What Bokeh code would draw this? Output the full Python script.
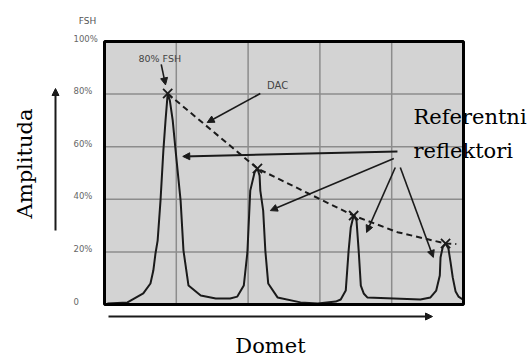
import math
from bokeh.plotting import figure
from bokeh.models import Range1d, Label, Arrow, NormalHead
from bokeh.embed import file_html
from bokeh.resources import INLINE

# ---- data ----
# echo trace: range (divisions 0..5) vs amplitude (% FSH)
trace_x = [0.04, 0.32, 0.54, 0.64, 0.68, 0.71, 0.74, 0.78, 0.82, 0.85, 0.88,
           0.91, 0.95, 0.99, 1.06, 1.10, 1.17, 1.34, 1.55, 1.75, 1.85, 1.94,
           1.99, 2.03, 2.09, 2.13, 2.16, 2.17, 2.21, 2.24, 2.28, 2.41, 2.73,
           2.97, 3.22, 3.29, 3.36, 3.38, 3.40, 3.43, 3.47, 3.51, 3.52, 3.54,
           3.57, 3.61, 3.66, 4.03, 4.40, 4.54, 4.62, 4.67, 4.68, 4.71, 4.75,
           4.79, 4.82, 4.85, 4.89, 4.93, 4.99]
trace_y = [0.4, 0.8, 4.2, 8.0, 12.9, 19.4, 24.3, 39.5, 58.6, 70.0, 80.2,
           77.6, 70.0, 58.6, 39.5, 20.5, 7.2, 3.4, 2.3, 2.3, 3.0, 7.2,
           19.8, 43.3, 50.2, 51.7, 49.0, 43.3, 35.7, 20.5, 8.0, 2.7, 0.8,
           0.4, 1.1, 1.9, 5.3, 12.9, 20.5, 29.3, 33.8, 31.9, 28.1, 20.5,
           7.2, 4.2, 2.7, 2.3, 1.9, 2.7, 5.3, 11.0, 17.9, 21.7, 23.2,
           21.3, 16.0, 10.3, 4.9, 3.0, 1.9]

# peak maxima of the reference reflectors (marked with X)
peak_x = [0.88, 2.13, 3.47, 4.75]
peak_y = [80.2, 51.7, 33.8, 23.2]

# DAC curve (distance amplitude correction)
dac_x = [0.88, 2.13, 3.47, 4.08, 4.75, 4.90]
dac_y = [80.2, 51.7, 33.8, 27.5, 23.2, 23.0]

x_min, x_max = 0, 5
y_min, y_max = 0, 100
y_ticks = [0, 20, 40, 60, 80, 100]
y_tick_labels = ["0", "20%", "40%", "60%", "80%", "100%"]
x_grid = [1, 2, 3, 4]
y_grid = [20, 40, 60, 80]

# ---- layout: the frame covers the whole canvas so outer texts are not clipped
W, H = 528, 356
PL, PR, PT, PB = 104, 65, 41, 52          # pixel margins around the screen area
sx = (W - PL - PR) / (x_max - x_min)
sy = (H - PT - PB) / (y_max - y_min)

p = figure(width=W, height=H, output_backend="svg", toolbar_location=None,
           x_range=Range1d(x_min - PL / sx, x_max + PR / sx),
           y_range=Range1d(y_min - PB / sy, y_max + PT / sy),
           min_border=0, x_axis_type=None, y_axis_type=None)
p.outline_line_color = None
p.background_fill_color = "white"
p.border_fill_color = "white"
p.grid.visible = False

INK = "#1a1a1a"

# screen area
p.quad(left=[x_min], right=[x_max], bottom=[y_min], top=[y_max],
       fill_color="#d3d3d3", line_color=None)
# grid
p.segment(x0=x_grid, x1=x_grid, y0=[y_min] * len(x_grid), y1=[y_max] * len(x_grid),
          line_color="#8c8c8c", line_width=1.5)
p.segment(x0=[x_min] * len(y_grid), x1=[x_max] * len(y_grid), y0=y_grid, y1=y_grid,
          line_color="#8c8c8c", line_width=1.5)
# tick labels
p.text(x=[x_min - 31 / sx] * len(y_ticks), y=y_ticks, text=y_tick_labels,
       text_font={"value": "DejaVu Sans"}, text_font_size="8.5px",
       text_color="#666666", text_align="left", text_baseline="middle", y_offset=-3)

# trace
p.line(trace_x, trace_y, line_color=INK, line_width=2)
# DAC dashed
p.line(dac_x, dac_y, line_color=INK, line_width=2, line_dash="6 4")
# peak crosses
p.scatter(peak_x, peak_y, marker="x", size=13, line_color=INK, line_width=1.8)
# frame border
p.quad(left=[x_min], right=[x_max], bottom=[y_min], top=[y_max],
       fill_color=None, line_color="black", line_width=3)

def arrow(x0, y0, x1, y1, w=1.6, size=7, units="data"):
    p.add_layout(Arrow(end=NormalHead(size=size, fill_color=INK, line_color=INK),
                       x_start=x0, y_start=y0, x_end=x1, y_end=y1,
                       start_units=units, end_units=units,
                       line_color=INK, line_width=w))

# annotation arrows
arrow(0.79, 91.3, 0.85, 83.5)        # 80% FSH
arrow(2.17, 80.2, 1.43, 69.2)        # DAC
arrow(4.08, 58.2, 1.09, 56.3, w=2)   # reflectors
arrow(4.03, 55.5, 2.31, 35.7)
arrow(4.05, 52.1, 3.65, 27.4)
arrow(4.12, 52.1, 4.58, 17.9)
# axis arrows (canvas pixels)
arrow(55, 230, 55, 88, w=2, units="canvas")
arrow(108, 316, 432, 316, w=2, units="canvas")

def label(x, y, text, size, color="black", font="DejaVu Sans", align="center",
          baseline="middle", angle=0.0, units="data"):
    p.add_layout(Label(x=x, y=y, text=text, text_font=font, text_font_size=size,
                       text_color=color, text_align=align, text_baseline=baseline,
                       angle=angle, x_units=units, y_units=units))

label(0.77, 93.5, "80% FSH", "9.5px", color="#444444")
label(2.41, 83.3, "DAC", "10px", color="#444444")
label(87, 20, "FSH", "9px", color="#555555", units="canvas")
label(413, 116, "Referentni", "21px", font="DejaVu Serif", align="left", baseline="alphabetic", units="canvas")
label(413, 150, "reflektori", "21px", font="DejaVu Serif", align="left", baseline="alphabetic", units="canvas")
label(270, 345, "Domet", "21px", font="DejaVu Serif", baseline="alphabetic", units="canvas")
label(24, 163, "Amplituda", "21px", font="DejaVu Serif", angle=math.pi / 2, units="canvas")

open("out.html", "w").write(file_html(p, INLINE))
